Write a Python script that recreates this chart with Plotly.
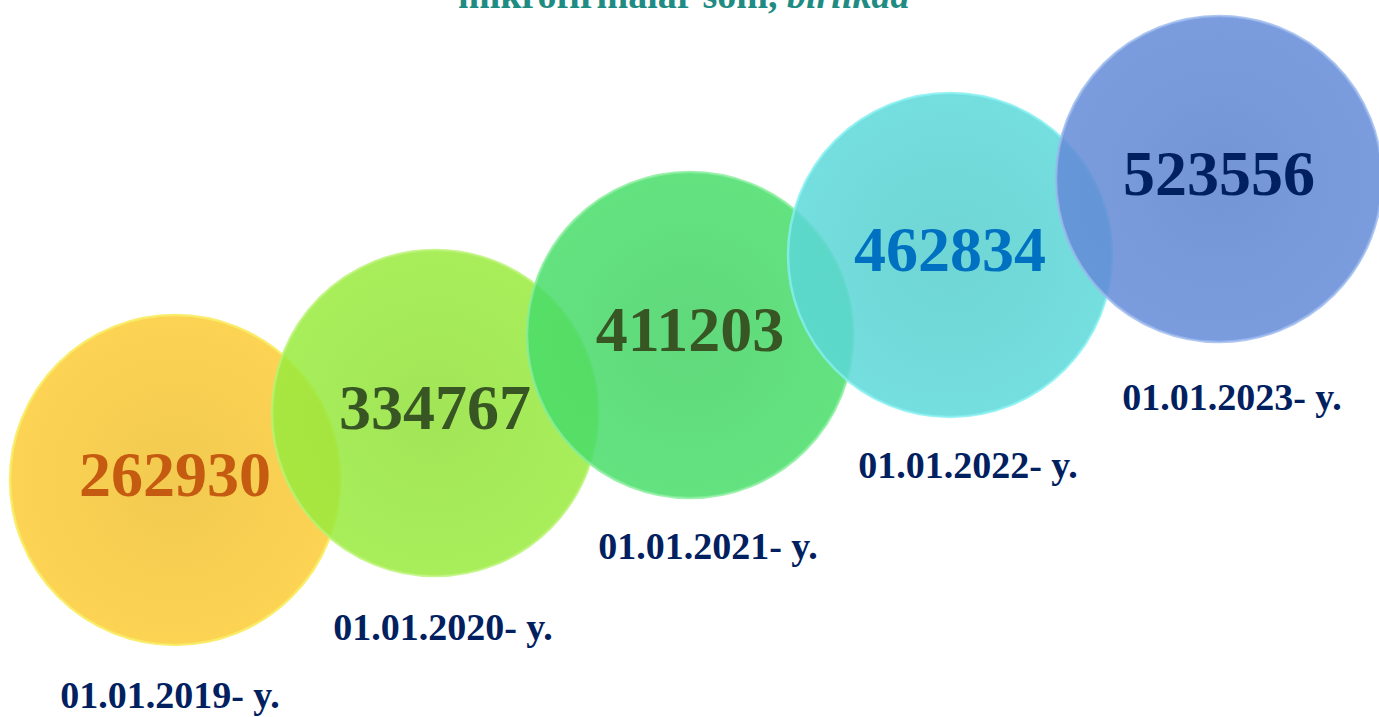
import plotly.graph_objects as go

# ---- data ----
dates = ["01.01.2019- y.", "01.01.2020- y.", "01.01.2021- y.", "01.01.2022- y.", "01.01.2023- y."]
values = [262930, 334767, 411203, 462834, 523556]
title_main = "mikrofirmalar soni, "
title_unit = "birlikda"

# ---- layout (pixel positions of the infographic) ----
cx = [175, 435, 690, 950, 1219]
cy = [480, 413, 335, 255, 179]
radius = [165, 163, 163, 162, 163]
label_x = [170, 443, 708, 968, 1232]
label_y = [698, 630, 549, 468, 400]

centers = ["rgba(252,206,64,0.9)", "rgba(153,235,61,0.85)", "rgba(72,221,106,0.85)",
           "rgba(92,216,216,0.85)", "rgba(99,139,216,0.85)"]
edges = ["rgba(240,196,60,0.9)", "rgba(145,225,58,0.85)", "rgba(68,210,100,0.85)",
         "rgba(86,205,205,0.85)", "rgba(92,130,205,0.85)"]
rims = ["rgba(248,236,100,0.9)", "rgba(185,243,115,0.8)", "rgba(135,238,155,0.8)",
        "rgba(135,240,240,0.8)", "rgba(155,185,238,0.8)"]
value_colors = ["#C55A11", "#375623", "#375623", "#0070C0", "#002060"]
date_color = "#002060"
font_family = "Liberation Serif, Times New Roman, serif"

fig = go.Figure()

for i in range(len(values)):
    fig.add_trace(go.Scatter(
        x=[cx[i]], y=[cy[i]], mode="markers+text",
        marker=dict(size=2 * radius[i], color=centers[i],
                    gradient=dict(type="radial", color=edges[i]),
                    line=dict(color=rims[i], width=2.5), opacity=1),
        text=[f"{values[i]}"], textposition="middle center",
        textfont=dict(family=font_family, size=64, color=value_colors[i], weight="bold"),
        hoverinfo="skip", showlegend=False, cliponaxis=False,
    ))

fig.add_trace(go.Scatter(
    x=label_x, y=label_y, mode="text", text=dates, textposition="middle center",
    textfont=dict(family=font_family, size=38, color=date_color, weight="bold"),
    hoverinfo="skip", showlegend=False, cliponaxis=False,
))

fig.add_annotation(
    x=683, y=18, xref="x", yref="y", xanchor="center", yanchor="bottom",
    text=f"<b>{title_main}<i>{title_unit}</i></b>", showarrow=False,
    font=dict(family=font_family, size=38, color="#1F8C84"),
)

fig.update_xaxes(range=[0, 1379], visible=False, fixedrange=True)
fig.update_yaxes(range=[717, 0], visible=False, fixedrange=True)
fig.update_layout(
    width=1379, height=717, margin=dict(l=0, r=0, t=0, b=0),
    paper_bgcolor="white", plot_bgcolor="white",
)

fig.write_html("out.html", config={"displayModeBar": False},
               post_script="document.body.style.margin='0';")
